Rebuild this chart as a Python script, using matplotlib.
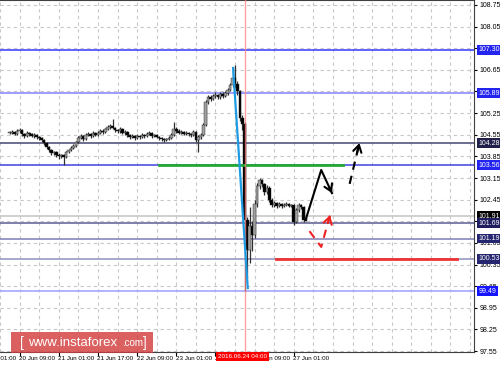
## USDJPY H1 chart with support / resistance levels
import matplotlib.pyplot as plt
from matplotlib.patches import Rectangle
from matplotlib.transforms import blended_transform_factory

plt.rcParams['font.family'] = ['Liberation Sans', 'DejaVu Sans']

# hours counted from 20 Jun 09:00 (weekend removed)
first_hour = -4
closes = [104.61, 104.64, 104.58, 104.67, 104.70, 104.58, 104.51, 104.61, 104.58, 104.51,
          104.54, 104.48, 104.44, 104.38, 104.28, 104.15, 104.06, 103.96, 103.99, 103.89,
          103.86, 103.89, 103.83, 103.99, 104.06, 104.12, 104.19, 104.31, 104.44, 104.51,
          104.41, 104.54, 104.58, 104.51, 104.61, 104.54, 104.61, 104.67, 104.64, 104.74,
          104.80, 104.83, 104.77, 104.70, 104.67, 104.74, 104.61, 104.64, 104.54, 104.48,
          104.51, 104.44, 104.51, 104.48, 104.54, 104.51, 104.58, 104.61, 104.51, 104.54,
          104.48, 104.44, 104.41, 104.38, 104.41, 104.44, 104.55, 104.75, 104.67, 104.61,
          104.64, 104.58, 104.61, 104.58, 104.54, 104.64, 104.38, 104.48, 104.54, 104.86,
          105.61, 105.77, 105.71, 105.80, 105.84, 105.77, 105.87, 105.80, 105.90, 106.00,
          106.16, 106.40, 106.20, 105.95, 105.10, 104.90, 101.79, 100.82, 101.60, 101.30,
          102.30, 102.90, 103.08, 102.95, 102.70, 102.83, 102.44, 102.28, 102.34, 102.24,
          102.31, 102.24, 102.28, 102.31, 102.24, 102.28, 101.73, 102.11, 102.28, 102.21,
          101.79, 101.85]
highs = [104.68, 104.70, 104.68, 104.74, 104.78, 104.72, 104.60, 104.66, 104.65, 104.62,
         104.60, 104.58, 104.52, 104.47, 104.40, 104.30, 104.18, 104.10, 104.04, 104.02,
         103.95, 103.94, 103.93, 104.03, 104.10, 104.17, 104.25, 104.36, 104.50, 104.58,
         104.55, 104.60, 104.64, 104.62, 104.66, 104.65, 104.66, 104.72, 104.72, 104.78,
         104.86, 104.90, 105.06, 104.80, 104.74, 104.79, 104.76, 104.70, 104.67, 104.58,
         104.56, 104.54, 104.56, 104.55, 104.60, 104.58, 104.63, 104.66, 104.64, 104.59,
         104.57, 104.52, 104.48, 104.45, 104.46, 104.50, 104.60, 104.96, 104.80, 104.72,
         104.70, 104.68, 104.66, 104.65, 104.62, 104.69, 104.66, 104.53, 104.60, 104.92,
         105.68, 105.84, 105.82, 105.86, 105.92, 105.88, 105.93, 105.92, 105.96, 106.06,
         106.22, 106.75, 106.81, 106.28, 106.00, 105.20, 104.95, 101.90, 102.20, 101.75,
         102.45, 103.00, 103.15, 103.12, 103.00, 102.92, 102.88, 102.50, 102.40, 102.38,
         102.36, 102.34, 102.33, 102.38, 102.35, 102.32, 102.30, 102.18, 102.34, 102.32,
         102.24, 101.92]
lows = [104.56, 104.57, 104.53, 104.55, 104.62, 104.52, 104.46, 104.48, 104.52, 104.47,
        104.46, 104.42, 104.38, 104.32, 104.22, 104.10, 104.00, 103.90, 103.91, 103.84,
        103.78, 103.80, 103.57, 103.80, 103.95, 104.02, 104.08, 104.15, 104.28, 104.40,
        104.36, 104.38, 104.50, 104.46, 104.48, 104.50, 104.50, 104.57, 104.58, 104.60,
        104.70, 104.75, 104.72, 104.64, 104.60, 104.62, 104.56, 104.55, 104.48, 104.42,
        104.44, 104.38, 104.40, 104.42, 104.45, 104.46, 104.48, 104.54, 104.46, 104.47,
        104.43, 104.38, 104.36, 104.33, 104.34, 104.37, 104.40, 104.52, 104.62, 104.56,
        104.57, 104.53, 104.54, 104.52, 104.48, 104.50, 104.32, 104.00, 104.42, 104.50,
        104.82, 105.55, 105.64, 105.66, 105.75, 105.70, 105.72, 105.74, 105.76, 105.85,
        105.95, 106.10, 106.05, 105.85, 105.00, 104.70, 99.50, 99.90, 100.40, 100.80,
        101.20, 102.20, 102.80, 102.85, 102.60, 102.62, 102.38, 102.20, 102.22, 102.18,
        102.20, 102.19, 102.20, 102.23, 102.20, 102.20, 101.64, 101.70, 102.05, 102.15,
        101.72, 101.76]

# horizontal levels: value, line colour, label box colour
levels = [107.30, 105.89, 104.28, 103.56, 101.91, 101.69, 101.19, 100.53, 99.49]
level_colors = ['#4646ff', '#8c8cff', '#55557f', '#5050e0', '#c8c8c8', '#6a6a9c', '#8888bb', '#9a9ac4', '#a6a6ff']
label_colors = ['#2424f0', '#2424f0', '#20204a', '#2424f0', '#000000', '#1e1e60', '#262670', '#262670', '#1414ff']

green_level = 103.56
green_span = [56.8, 132]
red_level = 100.53
red_span = [104.8, 178.8]

event_hour = 92
event_label = '2016.06.24 04:00'

# drawn analysis lines
drop_x = [87.2, 93.2]
drop_y = [106.71, 99.59]
path_x = [116.8, 123.2, 127.6]
path_y = [101.79, 103.41, 102.66]
dash_x = [134.8, 138.8]
dash_y = [102.96, 104.28]
red_x = [118.4, 123.2, 126.8]
red_y = [101.43, 100.92, 101.95]

time_ticks = [-16, 0, 16, 32, 48, 64, 80, 96, 112]
time_labels = ['20 Jun 01:00', '20 Jun 09:00', '21 Jun 01:00', '21 Jun 17:00', '22 Jun 09:00',
               '23 Jun 01:00', '23 Jun 17:00', '24 Jun 09:00', '27 Jun 01:00']
price_ticks = [97.55, 98.25, 98.95, 99.65, 100.35, 101.05, 101.75, 102.45, 103.15,
               103.85, 104.55, 105.25, 105.95, 106.65, 107.35, 108.05, 108.75]


def arrow_head(ax, xs, ys, color):
	# small open arrow head at the end of a path
	x0 = xs[-2] + 0.75 * (xs[-1] - xs[-2])
	y0 = ys[-2] + 0.75 * (ys[-1] - ys[-2])
	ax.annotate('', xy=(xs[-1], ys[-1]), xytext=(x0, y0),
	            arrowprops=dict(arrowstyle='->,head_length=0.5,head_width=0.3', lw=1.5, color=color,
	                            shrinkA=0, shrinkB=0), zorder=6)


def main():
	fig = plt.figure(figsize=(5, 3.66), dpi=100)
	ax = fig.add_axes([0, 14 / 366, 474 / 500, 352 / 366])
	ax.set_xlim(-4, 185.6)
	ax.set_ylim(97.52, 108.91)

	# grid
	ax.set_xticks([t for t in time_ticks if t >= 0 and t <= 112])
	ax.set_xticks(range(-8, 186, 8), minor=True)
	ax.set_yticks(price_ticks)
	ax.grid(True, which='both', color='#c8c8c8', linestyle=(0, (3, 3)), lw=0.8)
	ax.set_axisbelow(True)

	ax.yaxis.tick_right()
	ax.tick_params(axis='y', labelsize=5, length=2, pad=2, colors='#000000')
	ax.tick_params(axis='x', which='major', labelbottom=False, length=3, direction='out')
	ax.tick_params(axis='x', which='minor', length=0)
	ax.set_yticklabels(['%.2f' % p for p in price_ticks])
	ax.spines['left'].set_visible(False)
	for s in ['top', 'right', 'bottom']:
		ax.spines[s].set_color('#404040')

	# candles
	hours = list(range(first_hour, first_hour + len(closes)))
	opens = [closes[0]] + closes[:-1]
	ax.vlines(hours, lows, highs, color='#303030', lw=0.9, zorder=3)
	for h, o, c in zip(hours, opens, closes):
		col = '#a0a0a0' if c >= o else '#000000'
		ax.bar(h, max(abs(c - o), 0.02), bottom=min(o, c), width=1.1, color=col,
		       edgecolor='#202020', lw=0.3, zorder=3)

	# levels
	for lv, lc in zip(levels, level_colors):
		ax.axhline(lv, color=lc, lw=1.2, zorder=2)
	ax.plot(green_span, [green_level, green_level], color='#22aa33', lw=2, zorder=4)
	ax.plot(red_span, [red_level, red_level], color='#ee3333', lw=2, zorder=4)

	ax.axvline(event_hour, color='#ff8080', lw=1, alpha=0.75, zorder=5)

	# analysis lines
	ax.plot(drop_x, drop_y, color='#1e9be2', lw=1.6, zorder=5)
	ax.plot(path_x, path_y, color='black', lw=1.5, zorder=6)
	arrow_head(ax, path_x, path_y, 'black')
	ax.plot(dash_x, dash_y, color='black', lw=1.5, ls=(0, (4, 3)), zorder=6)
	arrow_head(ax, dash_x, dash_y, 'black')
	ax.plot(red_x, red_y, color='#ee2222', lw=1.5, ls=(0, (4, 3)), zorder=6)
	arrow_head(ax, red_x, red_y, '#ee2222')

	# level labels on the price scale
	ty = blended_transform_factory(ax.transAxes, ax.transData)
	for lv, bc in zip(levels, label_colors):
		ax.text(1.01, lv, '%.2f' % lv, transform=ty, fontsize=5, color='white',
		        ha='left', va='center', clip_on=False, zorder=10,
		        bbox=dict(boxstyle='square,pad=0.2', fc=bc, ec='none'))

	# time labels
	tx = blended_transform_factory(ax.transData, ax.transAxes)
	for t, lab in zip(time_ticks, time_labels):
		ax.text(t - 0.2, -0.012, lab, transform=tx, fontsize=4.5, ha='left', va='top',
		        clip_on=False, zorder=8)
	ax.text(event_hour - 1, -0.006, event_label, transform=tx, fontsize=4.5, color='white',
	        ha='center', va='top', clip_on=False, zorder=10,
	        bbox=dict(boxstyle='square,pad=0.3', fc='#ff0000', ec='none'))

	# watermark
	fig.add_artist(Rectangle((11 / 500, 13 / 366), 142 / 500, 21 / 366, transform=fig.transFigure,
	                         facecolor='#d23a3a', alpha=0.8, edgecolor='none', zorder=20))
	fig.text(20 / 500, 23.5 / 366, '[', fontsize=10, color='white',
	         va='center', ha='left', zorder=21)
	fig.text(28 / 500, 23.5 / 366, 'www.instaforex', fontsize=9.5, color='white',
	         va='center', ha='left', zorder=21)
	fig.text(122 / 500, 22.5 / 366, '.com', fontsize=7, color='white',
	         va='center', ha='left', zorder=21)
	fig.text(143 / 500, 23.5 / 366, ']', fontsize=10, color='white',
	         va='center', ha='left', zorder=21)

	plt.savefig('out.png', dpi=100)
	return


if __name__ == '__main__':
	main()
